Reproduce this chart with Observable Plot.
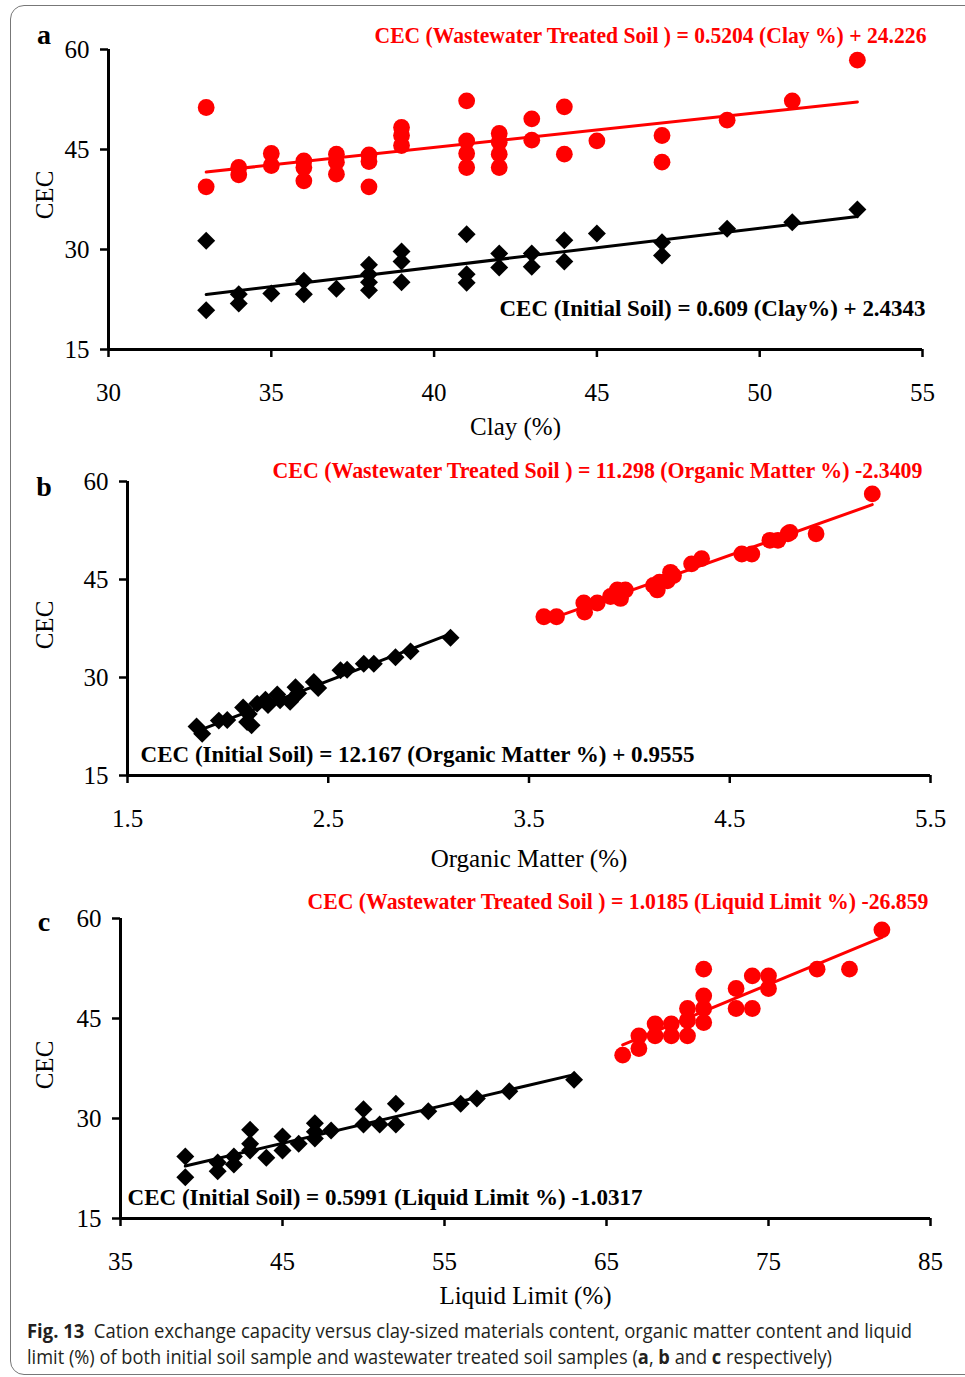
<!DOCTYPE html>
<html>
<head>
<meta charset="utf-8">
<script src="https://cdn.jsdelivr.net/npm/d3@7"></script>
<script src="https://cdn.jsdelivr.net/npm/@observablehq/plot@0.6"></script>
<style>
  body { margin: 0; background: #fff; }
  #fig { position: relative; width: 965px; height: 1377px; overflow: hidden; font-family: "Liberation Serif", "Times New Roman", serif; color: #000; }
  .frame { position: absolute; left: 10px; top: 5px; width: 975px; height: 1370px; border: 1.5px solid #777; border-radius: 14px; box-sizing: border-box; }
  .panel { position: absolute; left: 0; }
  .letter { position: absolute; font-weight: bold; font-size: 28px; line-height: 1; transform: translate(-50%, -50%); }
  .ylab { position: absolute; font-size: 25px; line-height: 1; transform: translate(-50%, -50%) rotate(-90deg); white-space: nowrap; }
  .cap { position: absolute; left: 27px; font-family: "Open Sans", sans-serif; font-size: 19.5px; line-height: 1; color: #231f20; white-space: nowrap; transform-origin: 0 50%; }
</style>
</head>
<body>
<div id="fig">
  <div class="frame"></div>
</div>
<script>
// ---------- data ----------
const cecTicks = [15, 30, 45, 60];
const clayTicks = [30, 35, 40, 45, 50, 55];
const omTicks = [1.5, 2.5, 3.5, 4.5, 5.5];
const llTicks = [35, 45, 55, 65, 75, 85];

// Panel a: CEC vs Clay (%)
const clayTreatedX = [33,33,34,34,35,35,36,36,36,37,37,37,38,38,38,39,39,39,41,41,41,41,42,42,42,42,43,43,44,44,45,47,47,49,51,53];
const clayTreatedY = [51.3,39.4,42.3,41.2,44.4,42.6,43.3,42.3,40.3,44.3,43.1,41.3,44.2,43.2,39.4,48.3,47.1,45.6,52.3,46.3,44.4,42.3,47.4,46.1,44.3,42.3,49.6,46.4,51.4,44.3,46.3,47.1,43.1,49.4,52.3,58.4];
const clayInitialX = [33,33,34,34,35,36,36,37,38,38,38,38,39,39,39,41,41,41,42,42,43,43,44,44,45,47,47,49,51,53];
const clayInitialY = [31.3,20.9,23.3,21.9,23.4,25.3,23.3,24.1,27.7,26.3,25.1,23.9,29.7,28.2,25.1,32.3,26.3,25.0,29.4,27.3,29.4,27.4,31.4,28.2,32.4,31.1,29.1,33.1,34.1,36.0];

// Panel b: CEC vs Organic Matter (%)
const omTreatedX = [3.574,3.637,3.773,3.777,3.84,3.906,3.94,3.956,3.98,4.12,4.139,4.15,4.189,4.205,4.22,4.31,4.36,4.56,4.61,4.70,4.74,4.79,4.80,4.93,5.21];
const omTreatedY = [39.3,39.3,41.4,40.0,41.4,42.4,43.4,42.1,43.4,44.1,43.4,44.6,44.8,46.1,45.6,47.4,48.2,48.9,48.9,51.0,51.0,52.0,52.2,52.0,58.1];
const omInitialX = [1.844,1.872,1.955,1.997,2.076,2.096,2.104,2.118,2.146,2.187,2.2,2.246,2.26,2.31,2.337,2.35,2.428,2.45,2.561,2.594,2.677,2.727,2.835,2.91,3.109];
const omInitialY = [22.5,21.4,23.4,23.5,25.4,23.2,24.4,22.7,26.0,26.6,25.8,27.4,26.5,26.3,28.5,27.6,29.3,28.4,31.1,31.2,32.1,32.1,33.1,34.0,36.1];

// Panel c: CEC vs Liquid Limit (%)
const llTreatedX = [66,67,67,68,68,69,69,70,70,70,71,71,71,71,73,73,74,74,75,75,78,80,82];
const llTreatedY = [39.5,42.4,40.5,44.2,42.4,44.2,42.4,46.5,44.7,42.4,52.4,48.4,46.5,44.4,49.5,46.5,51.4,46.5,51.4,49.5,52.4,52.4,58.3];
const llInitialX = [39,39,41,41,42,42,43,43,43,44,45,45,46,47,47,47,48,50,50,51,52,52,54,56,57,59,63];
const llInitialY = [24.3,21.2,23.4,22.1,24.3,23.1,28.3,26.2,25.2,24.1,27.3,25.2,26.2,29.3,28.0,27.0,28.2,31.4,29.1,29.1,32.2,29.1,31.1,32.2,33.0,34.1,35.8];

const eqClayTreated = "CEC (Wastewater Treated Soil ) = 0.5204 (Clay %) + 24.226";
const eqClayInitial = "CEC (Initial Soil) = 0.609 (Clay%) + 2.4343";
const eqOmTreated = "CEC (Wastewater Treated Soil ) = 11.298 (Organic Matter %) -2.3409";
const eqOmInitial = "CEC (Initial Soil) = 12.167 (Organic Matter %) + 0.9555";
const eqLlTreated = "CEC (Wastewater Treated Soil ) = 1.0185 (Liquid Limit %) -26.859";
const eqLlInitial = "CEC (Initial Soil) = 0.5991 (Liquid Limit %) -1.0317";

// ---------- drawing ----------
const RED = "#ff0000";
const FONT = "Liberation Serif, Times New Roman, serif";
const EQ_SIZE = 22.5;
const pts = (xs, ys) => xs.map((x, i) => ({x, y: ys[i]}));

const eqLengths = new Map([
  [eqClayTreated, 552], [eqClayInitial, 426],
  [eqOmTreated, 650], [eqOmInitial, 554],
  [eqLlTreated, 621], [eqLlInitial, 515]
]);

function panel(cfg) {
  const treated = pts(cfg.tx, cfg.ty);
  const initial = pts(cfg.ix, cfg.iy);
  const svg = Plot.plot({
    width: 965, height: cfg.height,
    marginLeft: cfg.ml, marginRight: cfg.mr, marginTop: cfg.mt, marginBottom: cfg.mb,
    x: {domain: cfg.xdomain},
    y: {domain: [15, 60]},
    style: {fontFamily: FONT, fontSize: "25px", color: "#000", background: "transparent", overflow: "visible"},
    marks: [
      Plot.axisX({ticks: cfg.xticks, tickSize: 8, tickPadding: 26, strokeWidth: 2.5, fontSize: 25, label: null, tickFormat: cfg.xfmt}),
      Plot.axisY({ticks: cecTicks, tickSize: 8, tickPadding: 11, strokeWidth: 2.5, fontSize: 25, label: null}),
      Plot.ruleX([cfg.xdomain[0]], {stroke: "#000", strokeWidth: 3}),
      Plot.ruleY([15], {stroke: "#000", strokeWidth: 3}),
      Plot.dot(treated, {x: "x", y: "y", r: 8.4, fill: RED}),
      Plot.dot(initial, {x: "x", y: "y", symbol: "diamond2", r: 8.1, fill: "#000"}),
      Plot.linearRegressionY(treated, {x: "x", y: "y", stroke: RED, strokeWidth: 3, ci: 0}),
      Plot.linearRegressionY(initial, {x: "x", y: "y", stroke: "#000", strokeWidth: 3, ci: 0}),
      Plot.text([cfg.eqT], {text: d => d, frameAnchor: "top-right", textAnchor: "end", lineAnchor: "middle",
        dx: cfg.eqTdx, dy: cfg.eqTdy, fill: RED, fontWeight: "bold", fontSize: EQ_SIZE}),
      Plot.text([cfg.eqI], {text: d => d, frameAnchor: cfg.eqIanchor, textAnchor: cfg.eqIta, lineAnchor: "middle",
        dx: cfg.eqIdx, dy: cfg.eqIdy, fill: "#000", fontWeight: "bold", fontSize: EQ_SIZE}),
      Plot.text([cfg.xlabel], {text: d => d, frameAnchor: "bottom", lineAnchor: "middle", dy: cfg.xlabDy, fontSize: 25})
    ]
  });
  svg.querySelectorAll("text").forEach(t => {
    const L = eqLengths.get(t.textContent);
    if (L) { t.setAttribute("textLength", L); t.setAttribute("lengthAdjust", "spacingAndGlyphs"); }
  });
  const wrap = document.createElement("div");
  wrap.className = "panel";
  wrap.style.top = cfg.top + "px";
  wrap.appendChild(svg);
  document.getElementById("fig").appendChild(wrap);
}

panel({top: 0, height: 440, ml: 108, mr: 43, mt: 49, mb: 91, xdomain: [30, 55], xticks: clayTicks,
  tx: clayTreatedX, ty: clayTreatedY, ix: clayInitialX, iy: clayInitialY,
  eqT: eqClayTreated, eqTdx: 4, eqTdy: -14,
  eqI: eqClayInitial, eqIanchor: "bottom-right", eqIta: "end", eqIdx: 3, eqIdy: -41,
  xlabel: "Clay (%)", xlabDy: 77});

panel({top: 440, height: 440, ml: 127, mr: 35, mt: 41, mb: 105, xdomain: [1.5, 5.5], xticks: omTicks, xfmt: d3.format(".1f"),
  tx: omTreatedX, ty: omTreatedY, ix: omInitialX, iy: omInitialY,
  eqT: eqOmTreated, eqTdx: -8, eqTdy: -11,
  eqI: eqOmInitial, eqIanchor: "bottom-left", eqIta: "start", eqIdx: 13, eqIdy: -21,
  xlabel: "Organic Matter (%)", xlabDy: 83});

panel({top: 880, height: 430, ml: 120, mr: 35, mt: 38, mb: 92, xdomain: [35, 85], xticks: llTicks,
  tx: llTreatedX, ty: llTreatedY, ix: llInitialX, iy: llInitialY,
  eqT: eqLlTreated, eqTdx: -2, eqTdy: -17,
  eqI: eqLlInitial, eqIanchor: "bottom-left", eqIta: "start", eqIdx: 7, eqIdy: -21,
  xlabel: "Liquid Limit (%)", xlabDy: 77});

// panel letters, y labels and caption
const fig = document.getElementById("fig");
function addDiv(cls, html, x, y) {
  const d = document.createElement("div");
  d.className = cls; d.innerHTML = html;
  d.style.left = x + "px"; d.style.top = y + "px";
  fig.appendChild(d); return d;
}
addDiv("letter", "a", 44, 35);
addDiv("letter", "b", 44, 487);
addDiv("letter", "c", 44, 922);
addDiv("ylab", "CEC", 44, 195);
addDiv("ylab", "CEC", 44, 625);
addDiv("ylab", "CEC", 44, 1065);

const cap1 = addDiv("cap", "<b>Fig. 13</b>&nbsp; Cation exchange capacity versus clay-sized materials content, organic matter content and liquid", 27, 1321);
const cap2 = addDiv("cap", "limit (%) of both initial soil sample and wastewater treated soil samples (<b>a</b>, <b>b</b> and <b>c</b> respectively)", 27, 1347);
[[cap1, 885], [cap2, 805]].forEach(([el, w]) => {
  const cw = el.getBoundingClientRect().width;
  el.style.transform = `scaleX(${w / cw})`;
});
</script>
</body>
</html>
